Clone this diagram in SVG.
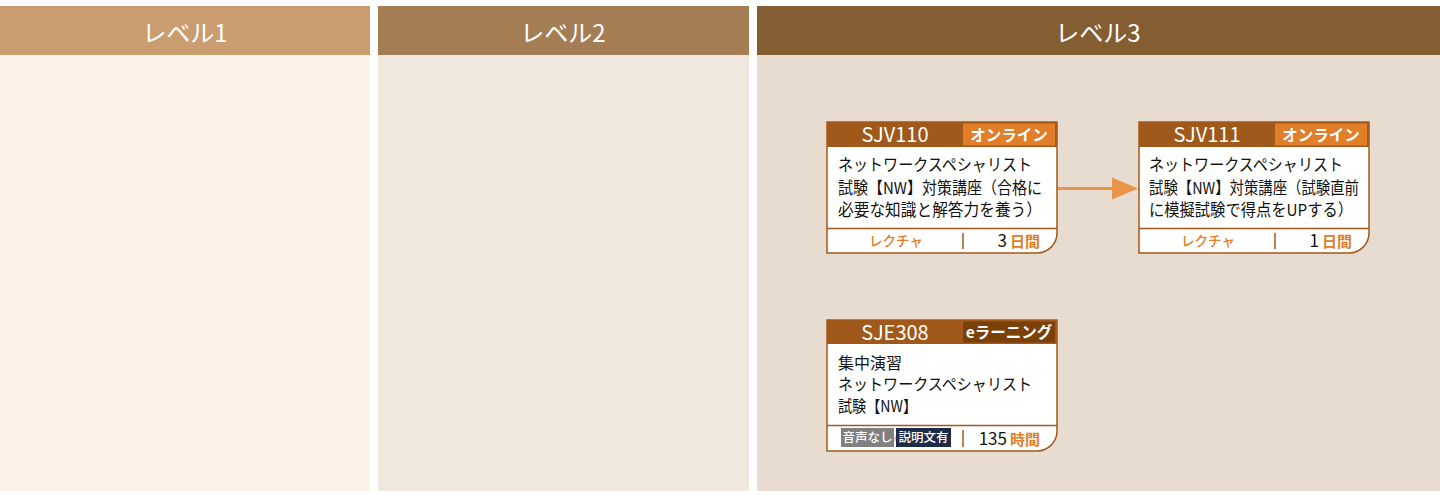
<svg xmlns="http://www.w3.org/2000/svg" width="1440" height="495" viewBox="0 0 1440 495">
<style>
text{font-family:"Noto Sans CJK JP","Noto Sans",sans-serif}
.lvl{fill:#fff;font-size:24px;text-anchor:middle}
.code{fill:#fff;font-size:20px;text-anchor:middle}
.badge{fill:#fff;font-size:15.5px;font-weight:bold;text-anchor:middle}
.body{fill:#111;font-size:16.5px}
.body3{fill:#111;font-size:16px}
.ftype{fill:#E07E2A;font-size:13.5px;font-weight:500;text-anchor:middle}
.num{fill:#111;font-size:17px}
.unit{fill:#E07E2A;font-size:15px;font-weight:bold}
.frame{fill:#fff;stroke:#A0591A;stroke-width:1.5}
.hdr{fill:#A0591A}
.sep{stroke:#A0591A;stroke-width:1.5}
.tag{fill:#fff;font-size:12.5px;font-weight:500;text-anchor:middle}
</style>
<rect width="1440" height="495" fill="#fff"/>
<g id="col1">
<rect x="0" y="6" width="370" height="49" fill="#CA9D70"/>
<rect x="0" y="55" width="370" height="436" fill="#FCF2EA"/>
<text class="lvl" x="185" y="42">レベル1</text>
</g>
<g id="col2">
<rect x="378" y="6" width="371" height="49" fill="#A47D55"/>
<rect x="378" y="55" width="371" height="436" fill="#F0E8DF"/>
<text class="lvl" x="563" y="42">レベル2</text>
</g>
<g id="col3">
<rect x="757" y="6" width="683" height="49" fill="#845D33"/>
<rect x="757" y="55" width="683" height="436" fill="#E7DCCF"/>
<text class="lvl" x="1098" y="42">レベル3</text>
</g>
<g id="connectors">
<line x1="1057" y1="188.5" x2="1114" y2="188.5" stroke="#E8954A" stroke-width="3"/>
<polygon points="1112,177.5 1138,188.5 1112,199.5" fill="#E8954A"/>
</g>
<g id="SJV110">
<path class="frame" d="M827,122 H1057 V233 A20,20 0 0 1 1037,253 H827 Z"/>
<rect class="hdr" x="827" y="122" width="230" height="25"/>
<rect x="963" y="123.5" width="92" height="22" fill="#E07E2A"/>
<line class="sep" x1="827" y1="228.5" x2="1057" y2="228.5"/>
<line class="sep" x1="963" y1="233" x2="963" y2="249"/>
<text class="code" x="895" y="142">SJV110</text>
<text class="badge" x="1009" y="140.5">オンライン</text>
<text class="body" x="838" y="171" textLength="194" lengthAdjust="spacingAndGlyphs">ネットワークスペシャリスト</text>
<text class="body" x="838" y="193.5" textLength="204" lengthAdjust="spacingAndGlyphs">試験【NW】対策講座（合格に</text>
<text class="body" x="838" y="216" textLength="204" lengthAdjust="spacingAndGlyphs">必要な知識と解答力を養う）</text>
<text class="ftype" x="896" y="246">レクチャ</text>
<text x="1040" y="247" text-anchor="end"><tspan class="num">3</tspan><tspan class="unit" dx="3">日間</tspan></text>
</g>
<g id="SJV111">
<path class="frame" d="M1139,122 H1369 V233 A20,20 0 0 1 1349,253 H1139 Z"/>
<rect class="hdr" x="1139" y="122" width="230" height="25"/>
<rect x="1275" y="123.5" width="92" height="22" fill="#E07E2A"/>
<line class="sep" x1="1139" y1="228.5" x2="1369" y2="228.5"/>
<line class="sep" x1="1275" y1="233" x2="1275" y2="249"/>
<text class="code" x="1207" y="142">SJV111</text>
<text class="badge" x="1321" y="140.5">オンライン</text>
<text class="body" x="1149" y="171" textLength="194" lengthAdjust="spacingAndGlyphs">ネットワークスペシャリスト</text>
<text class="body" x="1149" y="193.5" textLength="210" lengthAdjust="spacingAndGlyphs">試験【NW】対策講座（試験直前</text>
<text class="body" x="1149" y="216" textLength="204" lengthAdjust="spacingAndGlyphs">に模擬試験で得点をUPする）</text>
<text class="ftype" x="1208" y="246">レクチャ</text>
<text x="1352" y="247" text-anchor="end"><tspan class="num">1</tspan><tspan class="unit" dx="3">日間</tspan></text>
</g>
<g id="SJE308">
<path class="frame" d="M827,320 H1057 V431 A20,20 0 0 1 1037,451 H827 Z"/>
<rect class="hdr" x="827" y="320" width="230" height="24"/>
<rect x="963" y="321.5" width="92" height="21" fill="#7A4008"/>
<line class="sep" x1="827" y1="425.5" x2="1057" y2="425.5"/>
<line class="sep" x1="963" y1="430" x2="963" y2="447"/>
<text class="code" x="895" y="339.5">SJE308</text>
<text class="badge" x="1009" y="338">eラーニング</text>
<text class="body3" x="838" y="368.5" textLength="64" lengthAdjust="spacingAndGlyphs">集中演習</text>
<text class="body3" x="838" y="390" textLength="194" lengthAdjust="spacingAndGlyphs">ネットワークスペシャリスト</text>
<text class="body3" x="838" y="411.5" textLength="79" lengthAdjust="spacingAndGlyphs">試験【NW】</text>
<rect x="841" y="428" width="53" height="19" fill="#808080"/>
<text class="tag" x="867.5" y="442">音声なし</text>
<text x="895" y="442" font-size="10" fill="#aaa" text-anchor="middle">+</text>
<rect x="896" y="428" width="55" height="19" fill="#1E2A4A"/>
<text class="tag" x="923.5" y="442">説明文有</text>
<text x="1040" y="445" text-anchor="end"><tspan class="num">135</tspan><tspan class="unit" dx="3">時間</tspan></text>
</g>
</svg>
